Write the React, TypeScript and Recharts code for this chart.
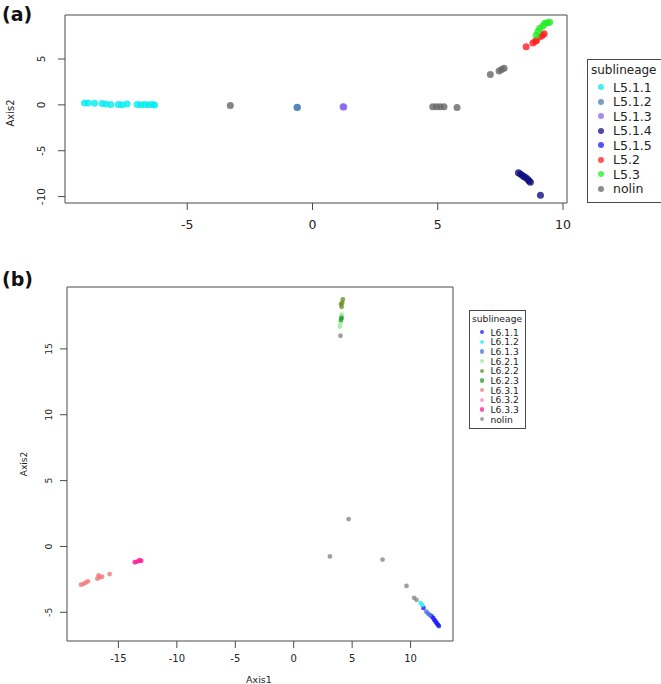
import { ScatterChart, Scatter, XAxis, YAxis, ReferenceArea, Legend } from 'recharts';

const FONT = '"DejaVu Sans", "Liberation Sans", sans-serif';
const TEXT = '#222';
const FRAME = '#4a4a4a';

// ---- panel (a): L5 sublineages ----
const namesA = ['L5.1.1', 'L5.1.2', 'L5.1.3', 'L5.1.4', 'L5.1.5', 'L5.2', 'L5.3', 'nolin'];
const colorsA = ['#00eef0', '#4a7fb8', '#8466ee', '#10107e', '#1a1aff', '#ff1e1e', '#22ee22', '#666666'];

const l511 = [
  [-9.1, 0.2], [-8.95, 0.2], [-8.7, 0.18], [-8.4, 0.15], [-8.25, 0.1], [-8.05, 0.05],
  [-7.75, 0.05], [-7.6, 0.02], [-7.4, 0.1], [-7.0, 0.05], [-6.85, 0.0], [-6.7, 0.05],
  [-6.55, 0.0], [-6.4, 0.05], [-6.3, -0.02],
];
const l512 = [[-0.6, -0.25], [-0.62, -0.3]];
const l513 = [[1.22, -0.2], [1.25, -0.22]];
const l514 = [
  [8.22, -7.4], [8.3, -7.55], [8.38, -7.7], [8.45, -7.85], [8.52, -7.95],
  [8.6, -8.15], [8.65, -8.3], [8.7, -8.45], [9.1, -9.85],
];
const l515: number[][] = [];
const l52 = [
  [8.53, 6.34], [8.8, 6.75], [8.9, 6.95], [8.95, 7.05], [9.1, 7.45], [9.18, 7.6], [9.25, 7.75],
];
const l53 = [[8.93, 7.6], [9.0, 8.0], [9.07, 8.35], [9.2, 8.6], [9.27, 8.9], [9.38, 8.95], [9.47, 9.0]];
const nolinA = [
  [-3.28, -0.07], [4.8, -0.2], [4.95, -0.2], [5.1, -0.2], [5.25, -0.2], [5.77, -0.3],
  [7.1, 3.3], [7.45, 3.7], [7.55, 3.85], [7.65, 4.0],
];
const seriesA = [l511, l512, l513, l514, l515, l52, l53, nolinA];
const ticksAx = [-5, 0, 5, 10];
const ticksAy = [-10, -5, 0, 5];

// ---- panel (b): L6 sublineages ----
const namesB = ['L6.1.1', 'L6.1.2', 'L6.1.3', 'L6.2.1', 'L6.2.2', 'L6.2.3', 'L6.3.1', 'L6.3.2', 'L6.3.3', 'nolin'];
const colorsB = ['#1a1aff', '#22eef0', '#4a70e0', '#90ee90', '#6b8e23', '#2a9a2a', '#f07878', '#ff80c0', '#ff1493', '#888888'];

const l611 = [
  [11.1, -4.67], [11.8, -5.3], [11.95, -5.45], [12.05, -5.6], [12.15, -5.72], [12.25, -5.85], [12.35, -5.95], [12.42, -6.05],
];
const l612 = [[10.85, -4.3], [11.0, -4.45]];
const l613 = [[11.35, -4.95], [11.5, -5.1], [11.65, -5.2]];
const l621 = [[3.95, 16.7], [4.0, 17.0], [4.05, 17.4], [4.1, 17.6]];
const l622 = [[4.05, 18.4], [4.1, 18.2], [4.15, 18.5], [4.2, 18.75]];
const l623 = [[4.05, 17.2], [4.1, 17.35]];
const l631 = [
  [-18.2, -2.9], [-18.0, -2.85], [-17.8, -2.75], [-17.6, -2.65], [-16.8, -2.45],
  [-16.6, -2.35], [-16.4, -2.3], [-16.7, -2.2], [-15.75, -2.1],
];
const l632: number[][] = [];
const l633 = [[-13.6, -1.2], [-13.4, -1.15], [-13.2, -1.05], [-13.05, -1.1]];
const nolinB = [[4.0, 16.0], [3.1, -0.76], [4.7, 2.08], [7.6, -1.0], [9.65, -3.0], [10.3, -3.9], [10.5, -4.05]];
const seriesB = [l611, l612, l613, l621, l622, l623, l631, l632, l633, nolinB];
const ticksBx = [-15, -10, -5, 0, 5, 10];
const ticksBy = [-5, 0, 5, 10, 15];

const toPts = (arr: number[][]) => arr.map(([x, y]) => ({ x, y }));

const dot = (color: string, r: number) => (p: any) =>
  <circle cx={p.cx} cy={p.cy} r={r} fill={color} fillOpacity={0.8} />;

const xTick = (size: number) => (p: any) => (
  <text x={p.x} y={p.y} dy="0.71em" textAnchor="middle" fontSize={size} fontFamily={FONT} fill={TEXT}>
    {p.payload.value}
  </text>
);

const yTick = (size: number) => (p: any) => (
  <text x={p.x} y={p.y} transform={`rotate(-90 ${p.x} ${p.y})`} textAnchor="middle" fontSize={size} fontFamily={FONT} fill={TEXT}>
    {p.payload.value}
  </text>
);

function LegendBox({ names, colors, size, titleSize, row, dotR, pad, gap }: any) {
  return (
    <div style={{ border: `1px solid ${FRAME}`, background: '#fff', fontFamily: FONT, color: TEXT, padding: pad, display: 'inline-block', whiteSpace: 'nowrap' }}>
      <div style={{ fontSize: titleSize, lineHeight: `${titleSize + 4}px`, marginBottom: 2 }}>sublineage</div>
      {names.map((n: string, i: number) => (
        <div key={n} style={{ display: 'flex', alignItems: 'center', height: row, fontSize: size }}>
          <span style={{ display: 'inline-block', width: dotR * 2, height: dotR * 2, borderRadius: '50%', background: colors[i], opacity: 0.75, marginLeft: gap[0], marginRight: gap[1] }} />
          <span>{n}</span>
        </div>
      ))}
    </div>
  );
}

function PanelA() {
  return (
    <ScatterChart width={661} height={260} margin={{ top: 15, right: 94, bottom: 27, left: 25 }}>
      <XAxis type="number" dataKey="x" domain={[-9.88, 10.16]} ticks={ticksAx} allowDataOverflow axisLine={false}
        tickLine={{ stroke: FRAME }} tickSize={7} tickMargin={10} height={30} tick={xTick(12.5)} />
      <YAxis type="number" dataKey="y" domain={[-10.7, 9.8]} ticks={ticksAy} allowDataOverflow axisLine={false}
        tickLine={{ stroke: FRAME }} tickSize={7} tickMargin={13} width={40} tick={yTick(10.5)}
        label={{
          content: () => (
            <text x={13.5} y={113} transform="rotate(-90 13.5 113)" textAnchor="middle" fontSize={10} fontFamily={FONT} fill={TEXT}>Axis2</text>
          ),
        }} />
      <ReferenceArea x1={-9.88} x2={10.16} y1={-10.7} y2={9.8} fill="none" stroke={FRAME} strokeOpacity={1} strokeWidth={1} />
      {seriesA.map((s, i) => (
        <Scatter key={namesA[i]} name={namesA[i]} data={toPts(s)} fill={colorsA[i]} shape={dot(colorsA[i], 3.5)} isAnimationActive={false} />
      ))}
      <Legend layout="horizontal" align="center" verticalAlign="middle"
        wrapperStyle={{ left: 587, top: 59, width: 120 }}
        content={() => (
          <LegendBox names={namesA} colors={colorsA} size={12.5} titleSize={12} row={14.5} dotR={3}
            pad="2px 14px 6px 3px" gap={[7, 9]} />
        )} />
    </ScatterChart>
  );
}

function PanelB() {
  return (
    <ScatterChart width={661} height={414} margin={{ top: 17, right: 208, bottom: 13, left: 27 }}>
      <XAxis type="number" dataKey="x" domain={[-19.4, 13.63]} ticks={ticksBx} allowDataOverflow axisLine={false}
        tickLine={{ stroke: FRAME }} tickSize={7} tickMargin={6.5} height={30} tick={xTick(10)}
        label={{
          content: () => (
            <text x={259} y={413} textAnchor="middle" fontSize={9.5} fontFamily={FONT} fill={TEXT}>Axis1</text>
          ),
        }} />
      <YAxis type="number" dataKey="y" domain={[-7.18, 19.7]} ticks={ticksBy} allowDataOverflow axisLine={false}
        tickLine={{ stroke: FRAME }} tickSize={7} tickMargin={8.3} width={40} tick={yTick(9.3)}
        label={{
          content: () => (
            <text x={26.5} y={194} transform="rotate(-90 26.5 194)" textAnchor="middle" fontSize={9} fontFamily={FONT} fill={TEXT}>Axis2</text>
          ),
        }} />
      <ReferenceArea x1={-19.4} x2={13.63} y1={-7.18} y2={19.7} fill="none" stroke={FRAME} strokeOpacity={1} strokeWidth={1} />
      {seriesB.map((s, i) => (
        <Scatter key={namesB[i]} name={namesB[i]} data={toPts(s)} fill={colorsB[i]} shape={dot(colorsB[i], 2.4)} isAnimationActive={false} />
      ))}
      <Legend layout="horizontal" align="center" verticalAlign="middle"
        wrapperStyle={{ left: 469, top: 40, width: 'auto' }}
        content={() => (
          <LegendBox names={namesB} colors={colorsB} size={9.2} titleSize={9.2} row={9.7} dotR={2.2}
            pad="1px 3px 4px 2px" gap={[8, 6]} />
        )} />
    </ScatterChart>
  );
}

export default function App() {
  const tag = { position: 'absolute' as const, left: 2, fontFamily: FONT, fontWeight: 700, fontSize: 19, color: '#111', lineHeight: 1 };
  return (
    <div style={{ position: 'absolute', left: 0, top: 0, width: 661, height: 684, overflow: 'hidden', background: '#fff' }}>
      <div style={{ position: 'absolute', left: 0, top: 0 }}><PanelA /></div>
      <div style={{ position: 'absolute', left: 0, top: 270 }}><PanelB /></div>
      <span style={{ ...tag, top: 5 }}>(a)</span>
      <span style={{ ...tag, top: 270 }}>(b)</span>
    </div>
  );
}
